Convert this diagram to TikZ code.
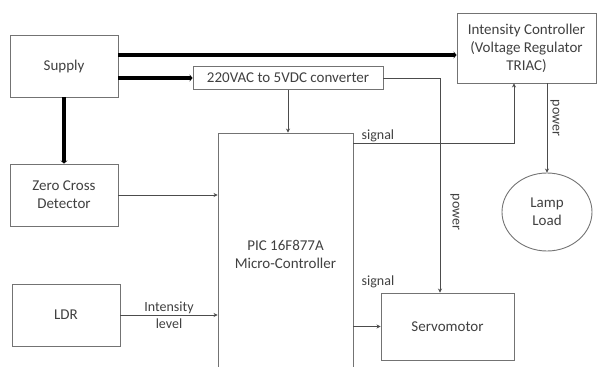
\documentclass[tikz,border=0pt]{standalone}
\usepackage{fontspec}
\setmainfont{Carlito}
\usetikzlibrary{arrows.meta,shapes.geometric}

\tikzset{
  blockbox/.style={draw=black!55, line width=0.9pt, text=black!75, align=center, inner sep=0pt},
  thinline/.style={draw=black!70, line width=0.9pt, -{Stealth[length=4pt,width=4pt]}},
  thickline/.style={draw=black, line width=4pt, -{Stealth[length=3pt,width=7pt]}},
  lbl/.style={text=black!75, inner sep=1pt, font=\fontsize{14}{17}\selectfont},
}

\begin{document}
\begin{tikzpicture}[x=1pt, y=-1pt, font=\fontsize{15}{18}\selectfont]
    \clip (0,0) rectangle (598,367);
    \useasboundingbox (0,0) rectangle (598,367);

    % blocks on the left
    \node[blockbox, minimum width=108pt, minimum height=62pt] (supply) at (64,66) {Supply};
    \node[blockbox, minimum width=108pt, minimum height=62pt] (zcd) at (64,195) {Zero Cross\\Detector};
    \node[blockbox, minimum width=108pt, minimum height=62pt] (ldr) at (66,315) {LDR};

    % converter and controller
    \node[blockbox, minimum width=190pt, minimum height=23pt] (conv) at (288,78) {220VAC to 5VDC converter};
    \node[blockbox, minimum width=135pt, minimum height=242pt] (pic) at (285.5,254) {PIC 16F877A\\Micro-Controller};

    % blocks on the right
    \node[blockbox, minimum width=139pt, minimum height=70pt] (ic) at (526.5,48) {Intensity Controller\\(Voltage Regulator\\TRIAC)};
    \node[blockbox, ellipse, minimum width=90pt, minimum height=78pt] (lamp) at (547,212) {Lamp\\Load};
    \node[blockbox, minimum width=133pt, minimum height=67pt] (servo) at (447.5,326.5) {Servomotor};

    % helper points
    \coordinate (supplyhi) at ([yshift=11pt]supply.east);
    \coordinate (supplylo) at ([yshift=-12pt]supply.east);
    \coordinate (picsig) at ([yshift=-11pt]pic.north east);
    \coordinate (icsig) at ([xshift=-12.5pt]ic.south);
    \coordinate (servopwr) at ([xshift=-7.5pt]servo.north);

    % supply lines
    \draw[thickline] (supplyhi) -- (supplyhi -| ic.west);
    \draw[thickline] (supplylo) -- (conv.west);
    \draw[thickline] (supply.south) -- (zcd.north);

    % signal and power lines
    \draw[thinline] (conv.south) -- (conv.south |- pic.north);
    \draw[thinline] (conv.east) -| (servopwr);
    \draw[thinline] (picsig) -| (icsig);
    \draw[thinline] (lamp.north |- ic.south) -- (lamp.north);
    \draw[thinline] (zcd.east) -- (zcd.east -| pic.west);
    \draw[thinline] (ldr.east) -- node[lbl, align=center] (intlevel) {Intensity\\level} (ldr.east -| pic.west);
    \draw[thinline] (servo.west -| pic.east) -- (servo.west);

    % labels
    \node[lbl, anchor=south west] (sigtop) at ([xshift=7pt]picsig) {signal};
    \node[lbl] (sigbot) at (378,282) {signal};
    \node[lbl, rotate=-90] (pwrservo) at (455,212) {power};
    \node[lbl, rotate=-90] (pwrlamp) at (555,118) {power};
\end{tikzpicture}
\end{document}
